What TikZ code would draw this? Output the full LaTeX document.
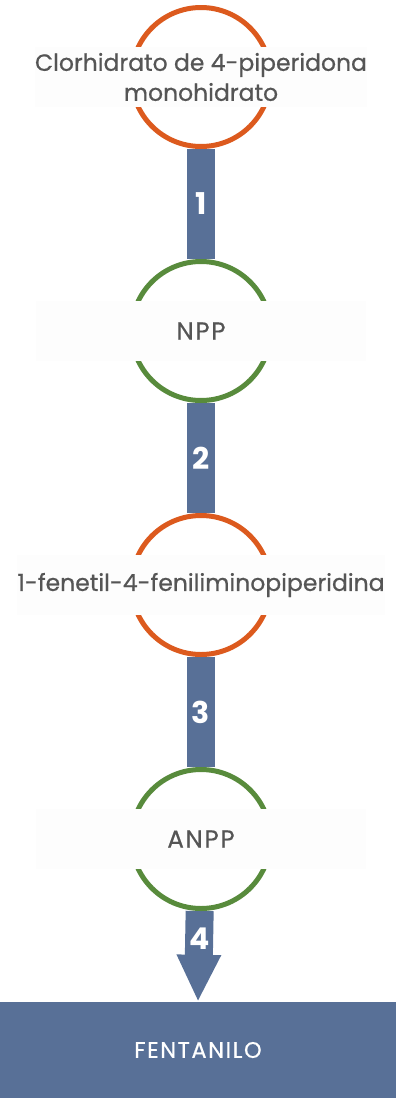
\documentclass[tikz,border=0pt]{standalone}
\usepackage{fontspec}
\setmainfont{Poppins}
\newfontfamily\labelfont[FakeBold=0.6]{Poppins}
\newfontfamily\capsfont[FakeBold=0.6, LetterSpace=7]{Poppins}
\usetikzlibrary{positioning, arrows.meta, backgrounds}

\definecolor{ringorange}{HTML}{DC5A1E}
\definecolor{ringgreen}{HTML}{588B3C}
\definecolor{barblue}{HTML}{587097}
\definecolor{labelgray}{HTML}{555555}

\begin{document}
\begin{tikzpicture}[
  x=1pt, y=-1pt,
  node distance=110pt,
  ring/.style={circle, draw, line width=5pt, fill=white, minimum size=139pt, inner sep=0pt},
  orangering/.style={ring, draw=ringorange},
  greenring/.style={ring, draw=ringgreen},
  band/.style={rectangle, fill=black!0.8, minimum width=330pt, minimum height=60pt, inner sep=0pt, align=center, text=labelgray, font=\fontsize{23.5}{30}\selectfont\labelfont},
  capsband/.style={band, font=\fontsize{24.5}{30}\selectfont\capsfont},
  bar/.style={draw=barblue, line width=28pt},
  stepnum/.style={text=white, font=\fontsize{30}{30}\selectfont\bfseries},
  final/.style={rectangle, fill=barblue, minimum width=396pt, minimum height=96pt, inner sep=0pt, text=white, font=\fontsize{22.5}{24}\selectfont\capsfont}
]
\useasboundingbox (0,0) rectangle (396,1098);

% Rings
\node[orangering] (clor) at (201,77) {};
\node[greenring, below=of clor] (npp) {};
\node[orangering, below=of npp] (fenil) {};
\node[greenring, below=of fenil] (anpp) {};
\node[final] (fent) at (198,1050) {FENTANILO};

% Labels
\node[band] (clortxt) at (clor) {Clorhidrato de 4-piperidona\\monohidrato};
\node[capsband] (npptxt) at (npp) {NPP};
\node[band] (feniltxt) at (fenil) {1-fenetil-4-feniliminopiperidina};
\node[capsband] (anpptxt) at (anpp) {ANPP};

% Steps
\begin{scope}[on background layer]
\draw[bar] (clor) -- node[stepnum] {1} (npp);
\draw[bar] (npp) -- node[stepnum] {2} (fenil);
\draw[bar] (fenil) -- node[stepnum] {3} (anpp);
\draw[bar, -{Triangle[width=41pt, length=47pt]}] (anpp) -- node[stepnum, pos=0.3] {4} (fent.north);
\end{scope}

\end{tikzpicture}
\end{document}
